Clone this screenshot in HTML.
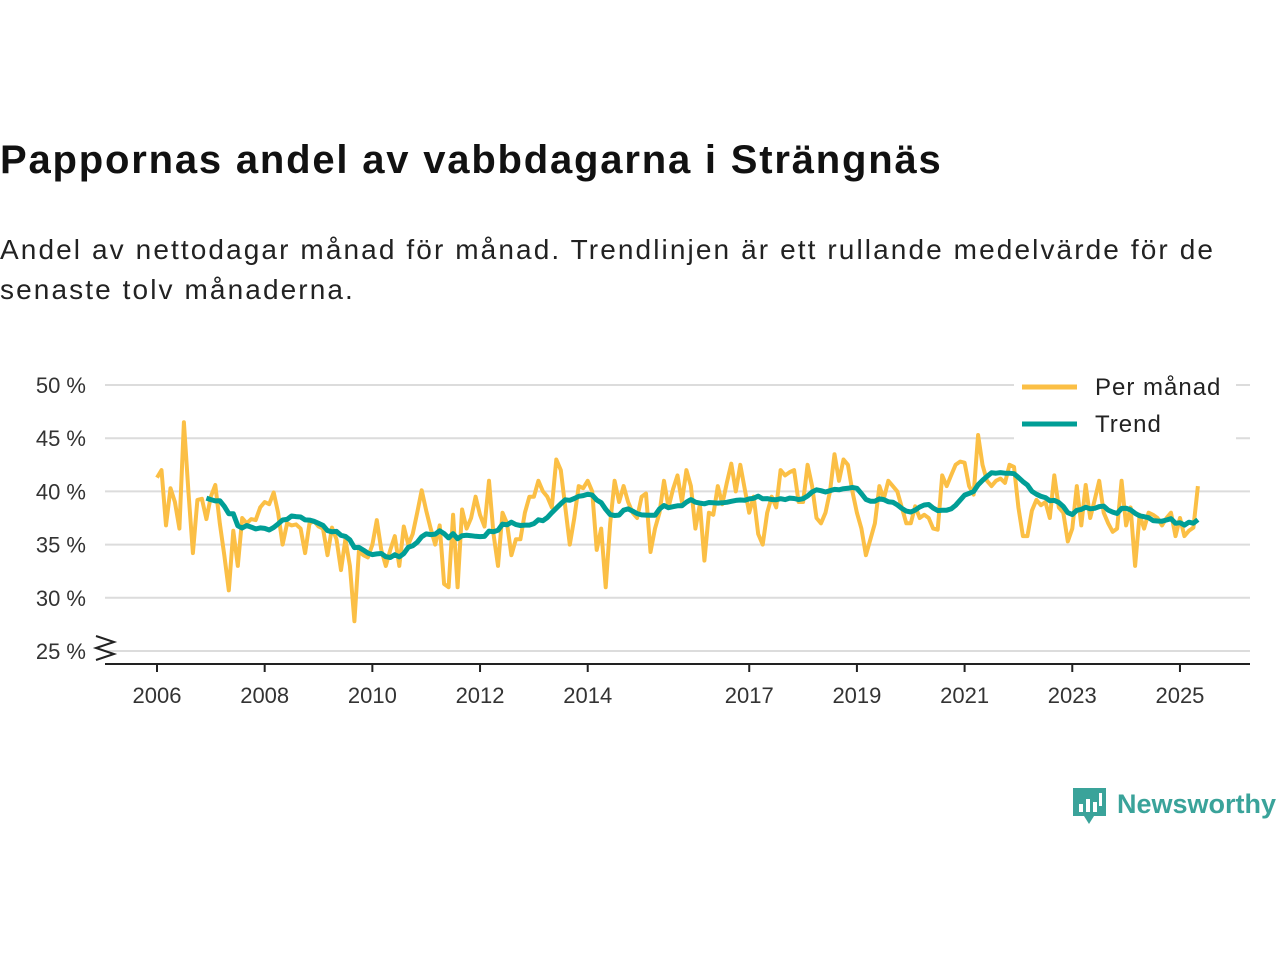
<!DOCTYPE html>
<html><head><meta charset="utf-8"><style>
body{margin:0;background:#fff;width:1280px;height:960px;overflow:hidden;font-family:"Liberation Sans",sans-serif;}
#title{position:absolute;left:0;top:138px;font-size:40px;font-weight:bold;color:#111;margin:0;letter-spacing:1.8px;white-space:nowrap;}
#sub{position:absolute;left:0;top:230px;font-size:28px;color:#222;line-height:40px;width:1240px;margin:0;letter-spacing:2.1px;}
svg{position:absolute;left:0;top:0;}
</style></head><body>
<h1 id="title">Pappornas andel av vabbdagarna i Strängnäs</h1>
<p id="sub">Andel av nettodagar månad för månad. Trendlinjen är ett rullande medelvärde för de senaste tolv månaderna.</p>
<svg id="chart" width="1280" height="960"></svg>
<script>
const yTicks=[25,30,35,40,45,50];
const xTickYears=[2006,2008,2010,2012,2014,2017,2019,2021,2023,2025];
const startYear=2006;
const monthly=[
41.3,42,36.8,40.3,39,36.5,46.5,40,34.2,39.2,39.3,37.4,
39.5,40.6,37,34,30.7,36.3,33,37.5,37,37.4,37.3,38.5,
39,38.8,39.9,38,35,37,36.8,36.9,36.5,34.2,37,37.2,
36.7,36.5,34,36.6,35.5,32.6,35.5,33,27.8,34.4,34,33.8,
35,37.3,34.5,33,34.5,35.8,33,36.7,35,36,38,40.1,
38.2,36.5,35,36.8,31.3,31,37.8,31,38.3,36.5,37.5,39.5,
37.8,36.7,41,36,33,38,37,34,35.5,35.5,38,39.5,
39.5,41,40,39.5,38.5,43,42,38.5,35,37.5,40.5,40.3,
41,40,34.5,36.5,31,37,41,39,40.5,39,38,37.5,
39.5,39.8,34.3,36.5,38,41,38.5,40.2,41.5,39,42,40.5,
36.5,38.8,33.5,38,37.8,40.5,38.8,40.8,42.6,40,42.5,40.2,
38,39.5,36,35,38,39.5,38.5,42,41.5,41.8,42,39,
39,42.5,40.5,37.5,37,38,40,43.5,41,43,42.5,40,
38,36.5,34,35.5,37,40.5,39.3,41,40.5,40,38.5,37,
37,38.6,37.5,37.8,37.5,36.5,36.4,41.5,40.5,41.5,42.5,42.8,
42.7,40.5,39.7,45.3,42.5,41,40.5,41,41.2,40.8,42.5,42.3,
38.5,35.8,35.8,38.2,39.2,38.7,39,37.5,41.5,38.5,38,35.3,
36.5,40.5,36.8,40.6,37.5,39.2,41,38,37,36.2,36.5,41,
36.8,38.5,33,37.8,36.5,38,37.8,37.5,36.8,37.5,38,35.8,
37.5,35.8,36.3,36.6,40.5];
const svg=document.getElementById('chart');
const NS='http://www.w3.org/2000/svg';
const x=t=>157+(t-startYear)*53.84;
const y=v=>385+(50-v)*10.64;
function mk(tag,attrs,parent){const e=document.createElementNS(NS,tag);for(const k in attrs)e.setAttribute(k,attrs[k]);(parent||svg).appendChild(e);return e;}
yTicks.forEach(v=>{
  const g=mk('line',{x1:105,x2:1250,y1:y(v),y2:y(v),stroke:'#dcdcdc','stroke-width':2});
  
  
  const t=mk('text',{x:86,y:y(v)+8,'text-anchor':'end','font-size':22,fill:'#333'});
  t.textContent=v+' %';
  
  
});
const br=mk('polyline',{points:'96,636 114,642 96,648 114,654 96,660',fill:'none',stroke:'#222','stroke-width':2});


const ax=mk('line',{x1:105,x2:1250,y1:664,y2:664,stroke:'#222','stroke-width':2});


xTickYears.forEach(yr=>{
  const tk=mk('line',{x1:x(yr),x2:x(yr),y1:664,y2:672,stroke:'#222','stroke-width':2});
  
  
  const t=mk('text',{x:x(yr),y:703,'text-anchor':'middle','font-size':22,fill:'#333'});
  t.textContent=yr;
  
  
});
const mp=monthly.map((v,i)=>x(startYear+i/12).toFixed(1)+','+y(v).toFixed(1)).join(' ');
const l1=mk('polyline',{points:mp,fill:'none',stroke:'#fbbf45','stroke-width':4,'stroke-linejoin':'round'});


const trend=[];
for(let i=11;i<monthly.length;i++){let s=0;for(let j=i-11;j<=i;j++)s+=monthly[j];trend.push(x(startYear+i/12).toFixed(1)+','+y(s/12).toFixed(1));}
const l2=mk('polyline',{points:trend.join(' '),fill:'none',stroke:'#009e96','stroke-width':5,'stroke-linejoin':'round'});


const lg=mk('g',{});


mk('rect',{x:1014,y:368,width:222,height:72,fill:'#fff'},lg);
mk('line',{x1:1022,x2:1077,y1:387,y2:387,stroke:'#fbbf45','stroke-width':5},lg);
const t1=mk('text',{x:1095,y:395,'font-size':24,fill:'#222','letter-spacing':1},lg);t1.textContent='Per månad';


mk('line',{x1:1022,x2:1077,y1:424,y2:424,stroke:'#009e96','stroke-width':5},lg);
const t2=mk('text',{x:1095,y:432,'font-size':24,fill:'#222','letter-spacing':1},lg);t2.textContent='Trend';


const logo=mk('g',{});


mk('path',{d:'M1073,788 h33 v28 h-12 l-5,8 l-5,-8 h-11 z',fill:'#3aa39a'},logo);
mk('rect',{x:1079,y:804,width:4,height:8,fill:'#fff'},logo);
mk('rect',{x:1086,y:799,width:4,height:13,fill:'#fff'},logo);
mk('rect',{x:1093,y:802,width:4,height:10,fill:'#fff'},logo);
mk('rect',{x:1099,y:793,width:3,height:13,fill:'#fff'},logo);
const lt=mk('text',{x:1117,y:813,'font-size':27,'font-weight':'bold',fill:'#3aa39a'},logo);lt.textContent='Newsworthy';
</script>
</body></html>
